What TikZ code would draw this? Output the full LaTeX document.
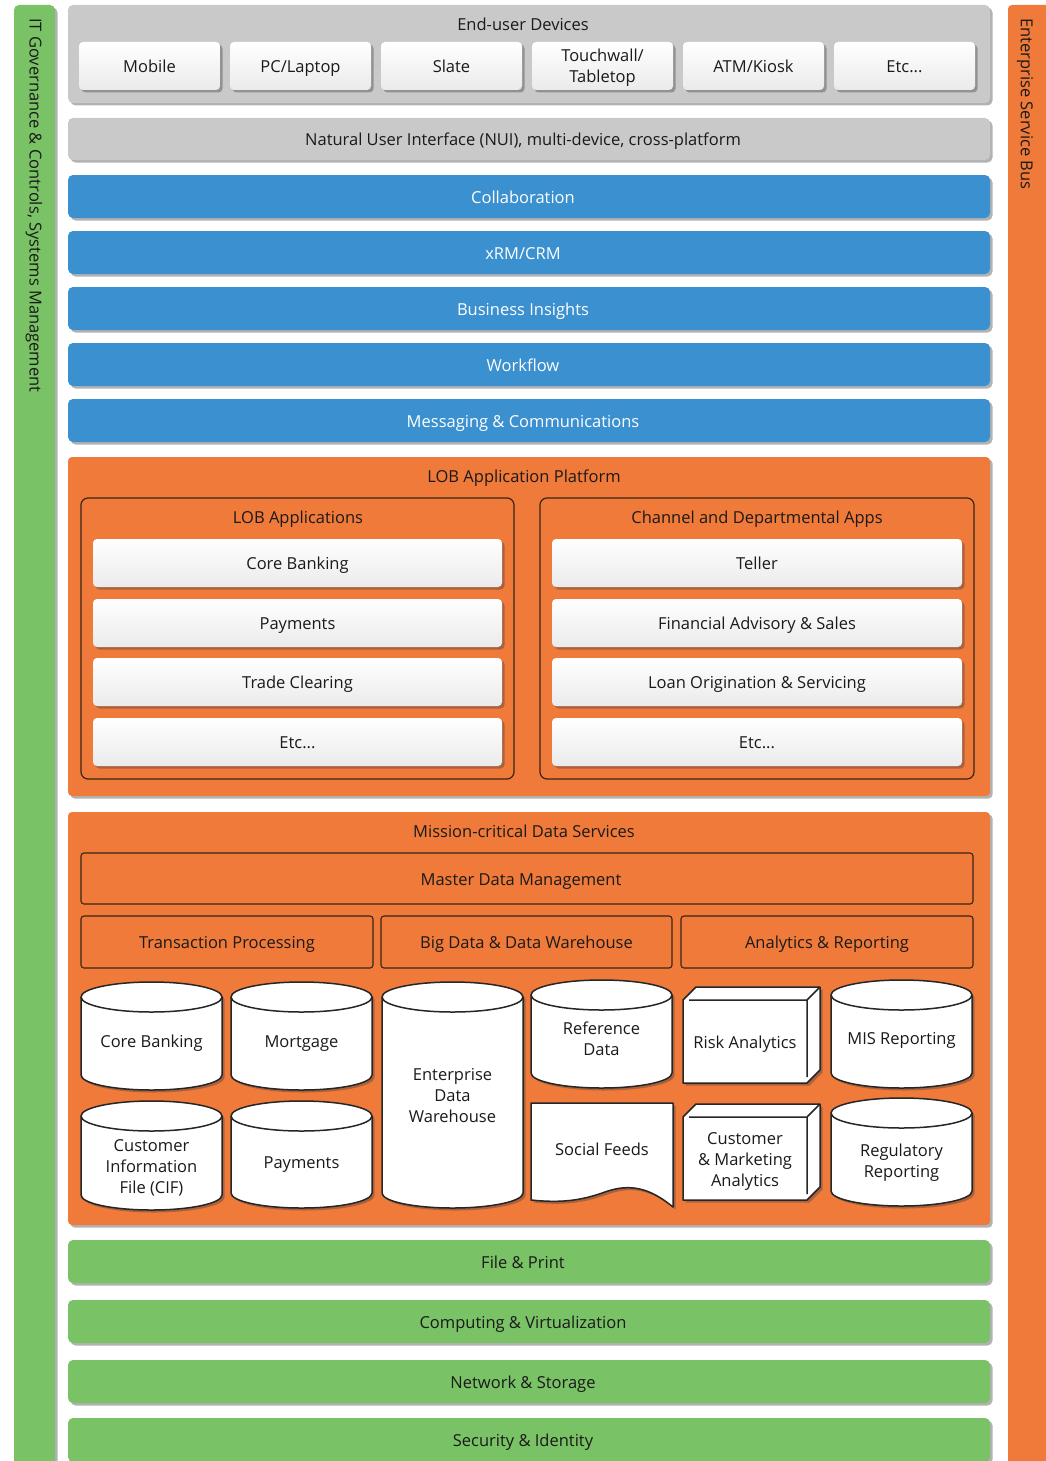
\documentclass[tikz,border=0pt]{standalone}
\usepackage{fontspec}
\setmainfont{Open Sans}
\usetikzlibrary{shadows}
\definecolor{cgray}{HTML}{C9C9C9}
\definecolor{cblue}{HTML}{3B90D0}
\definecolor{cgreen}{HTML}{7AC266}
\definecolor{corange}{HTML}{F07A3A}
\definecolor{cdark}{HTML}{3A2418}
\definecolor{txt}{HTML}{1A1A1A}
\newcommand\mycyl[7]{%
  \pgfmathsetmacro\cylrx{(#4-#2)/2}%
  \pgfmathsetmacro\cylct{#3+15}%
  \pgfmathsetmacro\cylcb{#5-15}%
  \pgfmathsetmacro\cylcx{(#2+#4)/2}%
  \draw[dshape] (#2,\cylct) -- (#2,\cylcb) arc[start angle=180,end angle=360,x radius=\cylrx pt,y radius=15pt] -- (#4,\cylct) arc[start angle=0,end angle=180,x radius=\cylrx pt,y radius=15pt] -- cycle;
  \draw[dline] (#2,\cylct) arc[start angle=180,end angle=360,x radius=\cylrx pt,y radius=15pt];
  \node[celltext] (#1) at (\cylcx,#6) {#7};
}
\newcommand\mycube[6]{%
  \pgfmathsetmacro\cubea{#2+13}%
  \pgfmathsetmacro\cubeb{#3+13}%
  \pgfmathsetmacro\cubec{#4-13}%
  \pgfmathsetmacro\cubed{#5-13}%
  \pgfmathsetmacro\cubee{#2+6}%
  \pgfmathsetmacro\cubef{#5-6}%
  \pgfmathsetmacro\cubex{(#2+\cubec)/2}%
  \pgfmathsetmacro\cubey{(\cubeb+#5)/2}%
  \draw[dshape] (#2,#5) -- (#2,\cubeb) -- (\cubea,#3) -- (#4,#3) -- (#4,\cubed) -- (\cubec,#5) -- cycle;
  \draw[dline] (\cubee,\cubeb) -- (\cubec,\cubeb) -- (\cubec,\cubef) (\cubec,\cubeb) -- (#4,#3);
  \node[celltext] (#1) at (\cubex,\cubey) {#6};
}
\begin{document}
\begin{tikzpicture}[x=1pt,y=-1pt,
  font=\fontsize{16.5}{21}\selectfont, text=txt,
  box/.style n args={4}{anchor=north west, at={(#1,#2)},
     minimum width={(#3-#1)*1pt}, minimum height={(#4-#2)*1pt},
     inner sep=0pt, outer sep=0pt},
  sl/.style={text height=17pt, text depth=4pt},
  lshift/.style={execute at end node={\hspace*{12pt}}},
  shad/.style={drop shadow={shadow xshift=2.5pt, shadow yshift=-2.5pt, opacity=0.4, fill=black!75}},
  graypanel/.style={fill=cgray, rounded corners=5pt, shad, sl},
  bluebar/.style={fill=cblue, rounded corners=5pt, shad, text=white, sl, lshift},
  greenbar/.style={fill=cgreen, rounded corners=5pt, shad, sl, lshift},
  orangepanel/.style={fill=corange, rounded corners=4pt, shad},
  whiteboxm/.style={top color=white, bottom color=black!8, rounded corners=4pt, shad},
  whitebox/.style={whiteboxm, sl},
  frame/.style={draw=cdark, line width=1.2pt, rounded corners=7pt},
  mbox/.style={draw=cdark, line width=1.1pt, rounded corners=3pt, sl},
  dshape/.style={draw=black!85, line width=1.5pt, fill=white, line join=round, shad},
  dline/.style={draw=black!85, line width=1.5pt},
  celltext/.style={align=center, inner sep=0pt, yshift=-2.5pt},
  ttl/.style={sl, inner sep=0pt},
  sidetext/.style={rotate=-90, anchor=west, inner sep=0pt}]
\useasboundingbox (0,0) rectangle (1045,1461);
\fill[white] (0,0) rectangle (1045,1461);

% side bars
\node[box={14}{5}{55}{1475}, fill=cgreen, rounded corners=5pt, shad] (gov) {};
\node[sidetext] (govtext) at (34,18) {IT Governance \& Controls, Systems Management};
\node[box={1008}{5}{1050}{1475}, orangepanel] (esb) {};
\node[sidetext] (esbtext) at (1025,18) {Enterprise Service Bus};

% end-user devices
\node[box={68}{5}{990}{103}, graypanel] (devices) {};
\node[ttl] (devtitle) at (523,24) {End-user Devices};
\node[box={79}{42}{220}{90}, whitebox] (mobile) {Mobile};
\node[box={230}{42}{371}{90}, whitebox] (pc) {PC/Laptop};
\node[box={381}{42}{522}{90}, whitebox] (slate) {Slate};
\node[box={532}{42}{673}{90}, whiteboxm] (touch) {};
\node[celltext, yshift=1pt] (touchtext) at (touch.center) {Touchwall/\\Tabletop};
\node[box={683}{42}{824}{90}, whitebox] (atm) {ATM/Kiosk};
\node[box={834}{42}{975}{90}, whitebox] (etc1) {Etc...};

\node[box={68}{118}{990}{160}, graypanel, lshift] (nui) {Natural User Interface (NUI), multi-device, cross-platform};

% blue bars
\node[box={68}{175}{990}{218}, bluebar] (collab) {Collaboration};
\node[box={68}{231}{990}{274}, bluebar] (xrm) {xRM/CRM};
\node[box={68}{287}{990}{330}, bluebar] (bi) {Business Insights};
\node[box={68}{343}{990}{386}, bluebar] (wf) {Workflow};
\node[box={68}{399}{990}{442}, bluebar] (msg) {Messaging \& Communications};

% LOB application platform
\node[box={68}{457}{990}{796}, orangepanel] (lob) {};
\node[ttl] (lobtitle) at (524,476) {LOB Application Platform};
\node[box={81}{498}{514}{779}, frame] (lobapps) {};
\node[ttl] (lobappstitle) at (298,517) {LOB Applications};
\node[box={540}{498}{974}{779}, frame] (chan) {};
\node[ttl] (chantitle) at (757,517) {Channel and Departmental Apps};
\node[box={93}{539}{502}{587}, whitebox] (core1) {Core Banking};
\node[box={93}{599}{502}{647}, whitebox] (pay1) {Payments};
\node[box={93}{658}{502}{706}, whitebox] (trade) {Trade Clearing};
\node[box={93}{718}{502}{766}, whitebox] (etc2) {Etc...};
\node[box={552}{539}{962}{587}, whitebox] (teller) {Teller};
\node[box={552}{599}{962}{647}, whitebox] (fin) {Financial Advisory \& Sales};
\node[box={552}{658}{962}{706}, whitebox] (loan) {Loan Origination \& Servicing};
\node[box={552}{718}{962}{766}, whitebox] (etc3) {Etc...};

% mission-critical data services
\node[box={68}{812}{990}{1225}, orangepanel] (mcd) {};
\node[ttl] (mcdtitle) at (524,831) {Mission-critical Data Services};
\node[box={81}{853}{973}{904}, mbox, lshift] (mdm) {Master Data Management};
\node[box={81}{916}{373}{968}, mbox] (tp) {Transaction Processing};
\node[box={381}{916}{672}{968}, mbox] (bigdata) {Big Data \& Data Warehouse};
\node[box={681}{916}{973}{968}, mbox] (ar) {Analytics \& Reporting};

\mycyl{cbdb}{81}{982}{222}{1090}{1041}{Core Banking}
\mycyl{mort}{231}{982}{372}{1090}{1041}{Mortgage}
\mycyl{edw}{382}{982}{523}{1208}{1093}{Enterprise\\Data\\Warehouse}
\mycyl{ref}{531}{980}{672}{1088}{1036}{Reference\\Data}
\mycube{risk}{683}{987}{820}{1083}{Risk Analytics}
\mycyl{mis}{831}{980}{972}{1088}{1038}{MIS Reporting}
\mycyl{cif}{81}{1101}{222}{1210}{1165}{Customer\\Information\\File (CIF)}
\mycyl{paydb}{231}{1101}{372}{1208}{1162}{Payments}
\draw[dshape] (531,1103) -- (673,1103) -- (673,1207) .. controls (650,1188) and (630,1183) .. (605,1192) .. controls (580,1201) and (560,1203) .. (531,1200) -- cycle;
\node[celltext] (social) at (602,1147) {Social Feeds};
\mycube{cust}{683}{1104}{820}{1200}{Customer\\\& Marketing\\Analytics}
\mycyl{reg}{831}{1098}{972}{1206}{1160}{Regulatory\\Reporting}

% green bars
\node[box={68}{1240}{990}{1283}, greenbar] (file) {File \& Print};
\node[box={68}{1300}{990}{1343}, greenbar] (comp) {Computing \& Virtualization};
\node[box={68}{1360}{990}{1403}, greenbar] (net) {Network \& Storage};
\node[box={68}{1418}{990}{1462}, greenbar] (sec) {Security \& Identity};
\end{tikzpicture}
\end{document}
